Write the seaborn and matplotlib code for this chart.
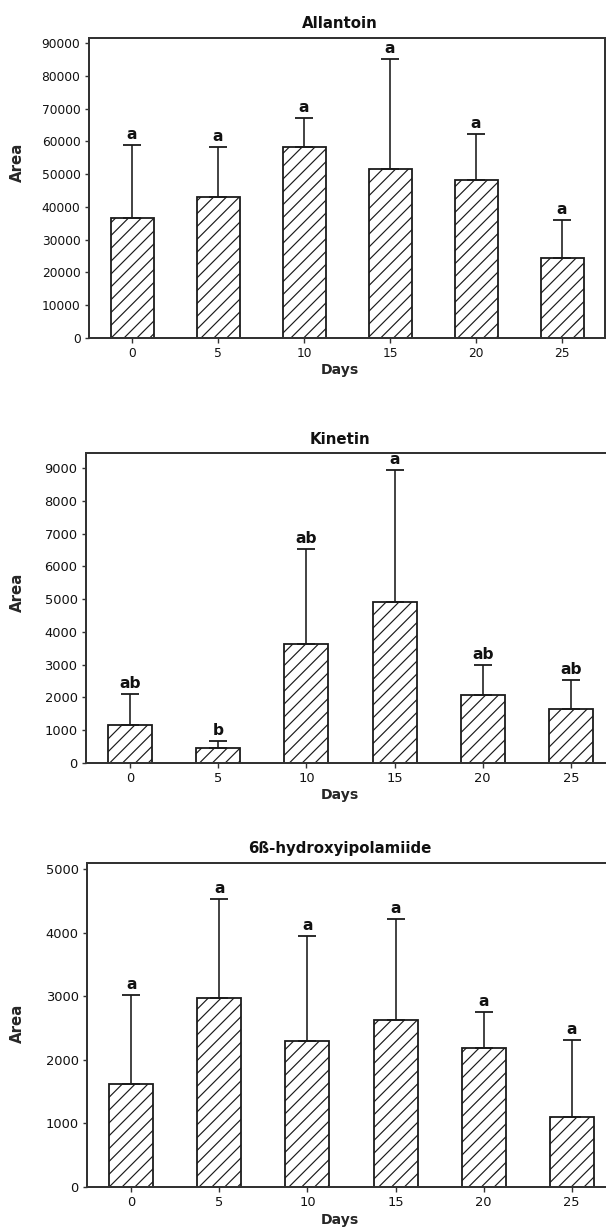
import matplotlib
matplotlib.use("Agg")
import matplotlib.pyplot as plt
import seaborn as sns
import pandas as pd
import numpy as np

# ---- data ----
days = ["0", "5", "10", "15", "20", "25"]

allantoin_mean = [36500, 43100, 58200, 51600, 48200, 24300]
allantoin_err = [22400, 15100, 8900, 33600, 14100, 11700]
allantoin_letters = ["a", "a", "a", "a", "a", "a"]

kinetin_mean = [1150, 460, 3640, 4915, 2070, 1630]
kinetin_err = [950, 210, 2895, 4025, 920, 890]
kinetin_letters = ["ab", "b", "ab", "a", "ab", "ab"]

hydroxy_mean = [1620, 2975, 2290, 2625, 2180, 1095]
hydroxy_err = [1395, 1565, 1660, 1600, 570, 1215]
hydroxy_letters = ["a", "a", "a", "a", "a", "a"]

# ---- figure setup ----
W, H, DPI = 606, 1227, 77
PX = 72.0 / DPI  # points per pixel

sns.set_style("ticks")
plt.rcParams["font.family"] = ["DejaVu Sans"]
plt.rcParams["hatch.linewidth"] = 1.1
plt.rcParams["hatch.color"] = "#1a1a1a"

fig = plt.figure(figsize=(W / DPI, H / DPI), dpi=DPI)
fig.patch.set_facecolor("white")

# panel layout in pixels: left, right, top, bottom of the axes box
panels = [
    dict(title="Allantoin", mean=allantoin_mean, err=allantoin_err, letters=allantoin_letters,
         box=(89, 605, 38.3, 337.7), ytop=91500, step=10000, tsize=12.3,
         title_y=23, ylab_y=162, xlab_y=370),
    dict(title="Kinetin", mean=kinetin_mean, err=kinetin_err, letters=kinetin_letters,
         box=(86, 615, 452.7, 762.7), ytop=9480, step=1000, tsize=13,
         title_y=439, ylab_y=592, xlab_y=795),
    dict(title="6ß-hydroxyipolamiide", mean=hydroxy_mean, err=hydroxy_err, letters=hydroxy_letters,
         box=(87.3, 615.7, 863.3, 1186.7), ytop=5095, step=1000, tsize=13,
         title_y=848, ylab_y=1023, xlab_y=1220),
]

edge = "#1a1a1a"
spine_col = "#333333"
label_x_px = 17.5
center_x_px = 340
lw = 1.8 * PX

for p in panels:
    l, r, t, b = p["box"]
    ax = fig.add_axes([l / W, 1 - b / H, (r - l) / W, (b - t) / H])
    df = pd.DataFrame({"Days": days, "Area": p["mean"]})

    sns.barplot(data=df, x="Days", y="Area", order=days, color="white",
                edgecolor=edge, linewidth=lw, width=0.5,
                errorbar=None, ax=ax, saturation=1)
    for patch in ax.patches:
        patch.set_hatch("//")
        patch.set_facecolor("white")
        patch.set_edgecolor(edge)
        patch.set_linewidth(lw)

    centers = [patch.get_x() + patch.get_width() / 2 for patch in ax.patches]
    lower = np.zeros(len(p["err"]))
    ax.errorbar(centers, p["mean"], yerr=[lower, p["err"]], fmt="none",
                ecolor=edge, elinewidth=1.6 * PX, capsize=9.5 * PX,
                capthick=1.8 * PX, zorder=3)

    tops = np.array(p["mean"]) + np.array(p["err"])
    for xc, top, lab in zip(centers, tops, p["letters"]):
        ax.annotate(lab, (xc, top), xytext=(0, 3 * PX), textcoords="offset points",
                    ha="center", va="bottom", fontsize=15.5 * PX, fontweight="bold",
                    color="#111111")

    ax.set_xlim(-0.5, 5.5)
    ax.set_ylim(0, p["ytop"])
    ax.set_yticks(np.arange(0, p["ytop"], p["step"]))
    ax.tick_params(axis="both", direction="out", length=4.5 * PX, width=1.4 * PX,
                   color=spine_col, labelsize=p["tsize"] * PX,
                   labelcolor="#111111", pad=4 * PX)
    ax.tick_params(axis="x", pad=5 * PX)

    for s in ax.spines.values():
        s.set_visible(True)
        s.set_color(spine_col)
        s.set_linewidth(2.0 * PX)

    width_px = r - l
    height_px = b - t
    ax.set_ylabel("Area", fontsize=15 * PX, fontweight="bold", va="center")
    ax.yaxis.set_label_coords((label_x_px - l) / width_px, (b - p["ylab_y"]) / height_px)
    ax.set_xlabel("Days", fontsize=14 * PX, fontweight="bold", va="center")
    ax.xaxis.set_label_coords((center_x_px - l) / width_px, (b - p["xlab_y"]) / height_px)
    ax.text((center_x_px - l) / width_px, (b - p["title_y"]) / height_px, p["title"],
            transform=ax.transAxes, ha="center", va="center",
            fontsize=15 * PX, fontweight="bold", color="#111111")

fig.savefig("out.png", dpi=DPI, facecolor="white")
